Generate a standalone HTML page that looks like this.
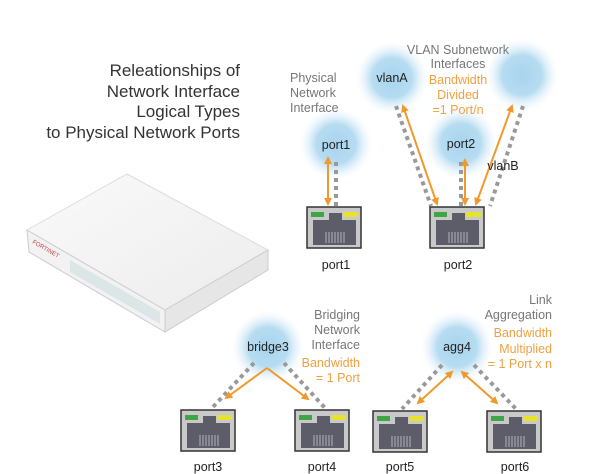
<!DOCTYPE html>
<html><head><meta charset="utf-8"><style>
body{margin:0;background:#fff;}
svg{display:block;font-family:"Liberation Sans",sans-serif;}
.g{fill:#777;font-size:12.5px}
.o{fill:#f0a040;font-size:12.5px}
.k{fill:#222;font-size:12.5px}
.dot{stroke:#999;stroke-width:4;stroke-dasharray:4 4;fill:none}
.ar{stroke:#f0992c;stroke-width:2;fill:none}
</style></head><body>
<svg width="603" height="474" viewBox="0 0 603 474" xmlns="http://www.w3.org/2000/svg">
<defs>
<radialGradient id="b" cx="50%" cy="50%" r="50%">
<stop offset="0" stop-color="#a8d4ee"/><stop offset="0.55" stop-color="#b6dcf1"/><stop offset="1" stop-color="#e4f2fb" stop-opacity="0"/>
</radialGradient>
<marker id="h" markerWidth="8" markerHeight="8" refX="6" refY="4" orient="auto-start-reverse" markerUnits="userSpaceOnUse"><path d="M0,0 L8,4 L0,8 Z" fill="#f0992c"/></marker>
<g id="p">
<rect x="0" y="0" width="54" height="41" fill="#c9c9c9" stroke="#333" stroke-width="1.5"/>
<rect x="4" y="5" width="13" height="5" fill="#3fa648"/>
<rect x="36" y="5" width="15" height="5" fill="#e6e22e"/>
<path d="M6,13 H22 V6 H35 V13 H49 V38 H6 Z" fill="#5d5d6a"/>
<g stroke="#c8c8d0" stroke-width="0.8"><line x1="19" y1="25" x2="19" y2="36"/><line x1="22" y1="25" x2="22" y2="36"/><line x1="25" y1="25" x2="25" y2="36"/><line x1="28" y1="25" x2="28" y2="36"/><line x1="31" y1="25" x2="31" y2="36"/><line x1="34" y1="25" x2="34" y2="36"/><line x1="37" y1="25" x2="37" y2="36"/></g>
</g>
<linearGradient id="top" x1="0" y1="0" x2="1" y2="1"><stop offset="0" stop-color="#fafafa"/><stop offset="1" stop-color="#ececec"/></linearGradient>
</defs>

<g font-size="17" fill="#333" text-anchor="end">
<text x="240" y="76">Releationships of</text>
<text x="240" y="97">Network Interface</text>
<text x="240" y="117">Logical Types</text>
<text x="240" y="138">to Physical Network Ports</text>
</g>

<!-- device -->
<path d="M27,230 L127,174 L268,250 L165,310 Z" fill="url(#top)" stroke="#ddd"/>
<path d="M27,230 L165,310 L165,332 L29,252 Z" fill="#f2f2f2" stroke="#ccc"/>
<path d="M165,310 L268,250 L268,270 L165,332 Z" fill="#e6e6e6" stroke="#ccc"/>
<path d="M70,260 L160,312 L160,324 L70,272 Z" fill="#dce6e6"/>
<text x="32" y="243" font-size="6" fill="#b44" transform="rotate(30 32 243)">FORTINET</text>

<!-- bubbles -->
<circle cx="392" cy="78" r="36" fill="url(#b)"/>
<circle cx="522" cy="75" r="36" fill="url(#b)"/>
<circle cx="336" cy="144" r="36" fill="url(#b)"/>
<circle cx="461" cy="143" r="36" fill="url(#b)"/>
<circle cx="268" cy="347" r="36" fill="url(#b)"/>
<circle cx="457" cy="347" r="36" fill="url(#b)"/>

<!-- dotted -->
<line class="dot" x1="336" y1="162" x2="336" y2="207"/>
<line class="dot" x1="396" y1="106" x2="431" y2="206"/>
<line class="dot" x1="461" y1="162" x2="461" y2="206"/>
<line class="dot" x1="523" y1="106" x2="490" y2="206"/>
<line class="dot" x1="254" y1="363" x2="212" y2="408"/>
<line class="dot" x1="284" y1="363" x2="325" y2="408"/>
<line class="dot" x1="442" y1="365" x2="402" y2="409"/>
<line class="dot" x1="474" y1="365" x2="516" y2="409"/>

<!-- arrows -->
<line class="ar" x1="328" y1="158" x2="328" y2="204" marker-start="url(#h)" marker-end="url(#h)"/>
<line class="ar" x1="403" y1="106" x2="437" y2="204" marker-start="url(#h)" marker-end="url(#h)"/>
<line class="ar" x1="465" y1="160" x2="465" y2="204" marker-start="url(#h)" marker-end="url(#h)"/>
<line class="ar" x1="512" y1="106" x2="476" y2="204" marker-start="url(#h)" marker-end="url(#h)"/>
<path class="ar" d="M267,368 L226,398" marker-end="url(#h)"/>
<path class="ar" d="M267,368 L308,399" marker-end="url(#h)"/>
<line class="ar" x1="418" y1="403" x2="452" y2="372" marker-start="url(#h)" marker-end="url(#h)"/>
<line class="ar" x1="462" y1="372" x2="497" y2="403" marker-start="url(#h)" marker-end="url(#h)"/>

<!-- ports -->
<use href="#p" x="307" y="207"/>
<use href="#p" x="430" y="207"/>
<use href="#p" x="181" y="410"/>
<use href="#p" x="295" y="410"/>
<use href="#p" x="373" y="411"/>
<use href="#p" x="487" y="411"/>

<g class="k" text-anchor="middle">
<text x="336" y="269">port1</text>
<text x="458" y="269">port2</text>
<text x="208" y="471">port3</text>
<text x="322" y="471">port4</text>
<text x="400" y="471">port5</text>
<text x="515" y="471">port6</text>
<text x="392" y="82">vlanA</text>
<text x="336" y="149">port1</text>
<text x="461" y="148">port2</text>
<text x="268" y="351">bridge3</text>
<text x="457" y="351">agg4</text>
<text x="503" y="170">vlanB</text>
</g>

<g class="g">
<text x="290" y="82">Physical</text>
<text x="290" y="97">Network</text>
<text x="290" y="112">Interface</text>
</g>
<g class="g" text-anchor="middle">
<text x="458" y="54">VLAN Subnetwork</text>
<text x="458" y="68">Interfaces</text>
</g>
<g class="o" text-anchor="middle">
<text x="458" y="84">Bandwidth</text>
<text x="458" y="99">Divided</text>
<text x="458" y="114">=1 Port/n</text>
</g>
<g class="g" text-anchor="end">
<text x="360" y="319">Bridging</text>
<text x="360" y="334">Network</text>
<text x="360" y="349">Interface</text>
<text x="552" y="304">Link</text>
<text x="552" y="319">Aggregation</text>
</g>
<g class="o" text-anchor="end">
<text x="360" y="367">Bandwidth</text>
<text x="360" y="382">= 1 Port</text>
<text x="552" y="337">Bandwidth</text>
<text x="552" y="353">Multiplied</text>
<text x="552" y="368">= 1 Port x n</text>
</g>
</svg>
</body></html>
